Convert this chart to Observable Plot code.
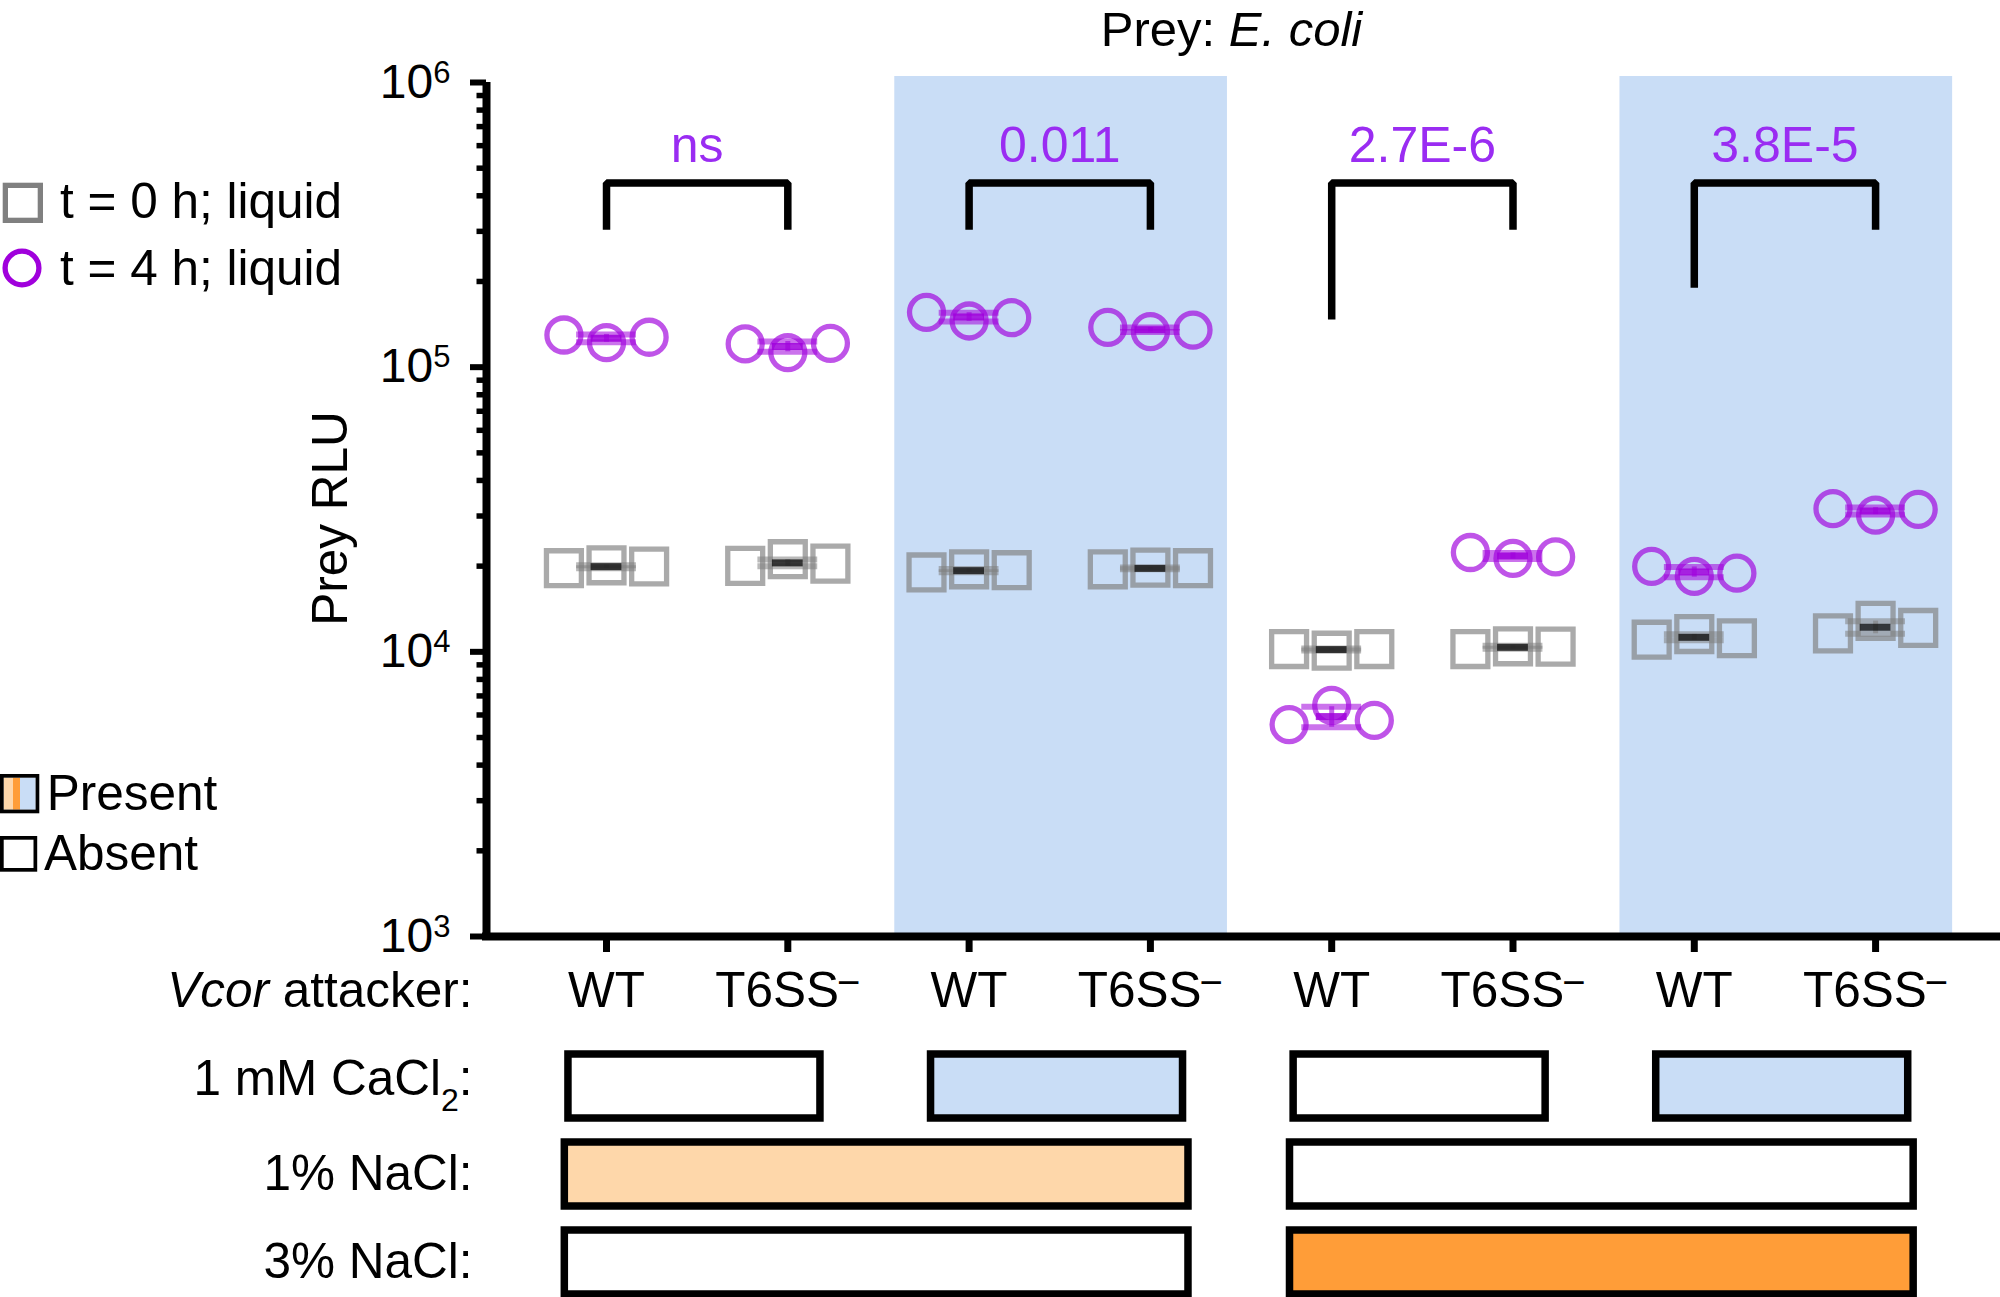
<!DOCTYPE html>
<html>
<head>
<meta charset="utf-8">
<script src="https://cdn.jsdelivr.net/npm/d3@7"></script>
<script src="https://cdn.jsdelivr.net/npm/@observablehq/plot@0.6"></script>
<style>
  body { margin: 0; background: #fff; font-family: "Liberation Sans", Arial, sans-serif; }
  #wrap { position: relative; width: 2000px; height: 1297px; overflow: hidden; background: #fff; }
  #wrap > svg { display: block; }
  #legend { position: absolute; left: 0; top: 0; pointer-events: none; }
</style>
</head>
<body>
<div id="wrap"></div>
<script>
// ---------------- DATA ----------------
const attackers = ["WT", "T6SS⁻", "WT", "T6SS⁻", "WT", "T6SS⁻", "WT", "T6SS⁻"];
// Prey RLU, three replicates per attacker column
const t0Liquid = [
  [19670, 20140, 19940],
  [20040, 21150, 20410],
  [19000, 19500, 19350],
  [19500, 19760, 19670],
  [10230, 10090, 10230],
  [10230, 10460, 10430],
  [11030, 11550, 11160],
  [11610, 12850, 12130]
];
const t4Liquid = [
  [129700, 121900, 127400],
  [120700, 112500, 121300],
  [155800, 145300, 149200],
  [138000, 133200, 135000],
  [5550, 6480, 5740],
  [22330, 21280, 21540],
  [19950, 18400, 18890],
  [31830, 30220, 31650]
];
// conditions per column (1 = present)
const cacl2 = [0, 0, 1, 1, 0, 0, 1, 1];
const nacl1 = [1, 1, 1, 1, 0, 0, 0, 0];
const nacl3 = [0, 0, 0, 0, 1, 1, 1, 1];
// statistics annotations
const comparisons = [[0, 1], [2, 3], [4, 5], [6, 7]];
const pLabels = ["ns", "0.011", "2.7E-6", "3.8E-5"];
const bracketTop = 4.44e5;
const bracketLeftEnd = [3.04e5, 3.04e5, 1.47e5, 1.9e5];
const bracketRightEnd = [3.04e5, 3.04e5, 3.04e5, 3.04e5];
const yMajorTicks = [1e3, 1e4, 1e5, 1e6];
const rowLabels = ["1 mM CaCl₂:", "1% NaCl:", "3% NaCl:"];
const seriesLabels = ["t = 0 h; liquid", "t = 4 h; liquid"];
const presenceLabels = ["Present", "Absent"];

// ---------------- STYLE ----------------
const FONT = "'Liberation Sans', Arial, Helvetica, sans-serif";
const FS = 49.5;
const W = 2000, H1 = 1030, H2 = 267, ML = 486;
const X_DOMAIN = [-0.662, 7.689];
const purple = "#a000dc", grey = "#808080", pColor = "#9a2cf2";
const blue = "#c9ddf6", lightOrange = "#fed7aa", orange = "#ff9d38";
const jitter = 0.235;

// derived tables
const minorTicks = [1e3, 1e4, 1e5].flatMap(d => d3.range(2, 10).map(k => d * k));
const pts = (arr) => arr.flatMap((reps, c) => reps.map((v, i) => ({x: c + (i - 1) * jitter, y: v})));
const stats = (arr) => arr.map((reps, c) => {
  const m = d3.mean(reps), s = d3.deviation(reps);
  return {c, m, lo: m - s, hi: m + s};
});
function runs(arr, row) {
  const out = [];
  const groupSize = row === "cacl2" ? 2 : 4;
  for (let i = 0; i < arr.length; i += groupSize) out.push({row, first: i, last: i + groupSize - 1, present: arr[i]});
  return out;
}
const cacl2Runs = runs(cacl2, "cacl2");
const naclRuns = [...runs(nacl1, "nacl1"), ...runs(nacl3, "nacl3")];
const boxFill = {cacl2: blue, nacl1: lightOrange, nacl3: orange};
const s0 = stats(t0Liquid), s4 = stats(t4Liquid);
const bracketPts = comparisons.flatMap(([a, b], i) => [
  {i, x: a, y: bracketLeftEnd[i]}, {i, x: a, y: bracketTop},
  {i, x: b, y: bracketTop}, {i, x: b, y: bracketRightEnd[i]}
]);

function errorMarks(st, capColor, meanColor) {
  return [
    Plot.ruleX(st, {x: "c", y1: "lo", y2: "hi", stroke: capColor, strokeWidth: 5, strokeOpacity: 0.6}),
    Plot.ruleY(st, {y: "lo", x1: d => d.c - 0.165, x2: d => d.c + 0.165, stroke: capColor, strokeWidth: 6, strokeOpacity: 0.55}),
    Plot.ruleY(st, {y: "hi", x1: d => d.c - 0.165, x2: d => d.c + 0.165, stroke: capColor, strokeWidth: 6, strokeOpacity: 0.55}),
    Plot.ruleY(st, {y: "m", x1: d => d.c - 0.085, x2: d => d.c + 0.085, stroke: meanColor, strokeWidth: 7, strokeOpacity: 0.85})
  ];
}

const plot1 = Plot.plot({
  width: W, height: H1,
  marginLeft: ML, marginRight: 0, marginTop: 82, marginBottom: H1 - 936,
  style: {fontFamily: FONT, fontSize: FS + "px", color: "black", background: "transparent", overflow: "visible"},
  x: {domain: X_DOMAIN},
  y: {type: "log", domain: [1e3, 1e6]},
  marks: [
    Plot.rect(cacl2Runs.filter(d => d.present), {x1: d => d.first - 0.41, x2: d => d.last + 0.425, fill: blue, insetTop: -6}),
    Plot.dot(pts(t0Liquid), {x: "x", y: "y", symbol: "square", r: 19.7, stroke: grey, strokeWidth: 5.3, strokeOpacity: 0.67, fill: "none"}),
    Plot.dot(pts(t4Liquid), {x: "x", y: "y", symbol: "circle", r: 17, stroke: purple, strokeWidth: 5.3, strokeOpacity: 0.67, fill: "none"}),
    ...errorMarks(s0, grey, "#1a1a1a"),
    ...errorMarks(s4, purple, purple),
    Plot.line(bracketPts, {x: "x", y: "y", z: "i", stroke: "black", strokeWidth: 7.5, strokeLinejoin: "miter", strokeLinecap: "butt"}),
    Plot.text(comparisons, {x: d => (d[0] + d[1]) / 2, y: () => bracketTop, text: (d, i) => pLabels[i], dy: -21, lineAnchor: "bottom", fill: pColor, fontSize: 50}),
    Plot.axisY({ticks: yMajorTicks, tickSize: 16, strokeWidth: 6, tickFormat: () => "", label: null}),
    Plot.axisY({ticks: minorTicks, tickSize: 9.5, strokeWidth: 5.5, tickFormat: () => "", label: null}),
    Plot.axisX({ticks: d3.range(attackers.length), tickSize: 16, strokeWidth: 7, tickFormat: () => "", label: null}),
    Plot.ruleX([X_DOMAIN[0]], {stroke: "black", strokeWidth: 8}),
    Plot.ruleY([1e3], {stroke: "black", strokeWidth: 8, strokeLinecap: "square"}),
    Plot.text(yMajorTicks, {y: d => d, text: d => "10^" + Math.round(Math.log10(d)), frameAnchor: "left", textAnchor: "end", dx: -36, dy: 15, lineAnchor: "bottom", fontSize: 48}),
    Plot.text(attackers, {x: (d, i) => i, text: d => d, frameAnchor: "bottom", dy: 70, lineAnchor: "bottom", fontSize: FS}),
    Plot.text(["Vcor attacker:"], {frameAnchor: "bottom-left", dx: -14, dy: 70, textAnchor: "end", lineAnchor: "bottom", fontSize: FS}),
    Plot.text(["Prey RLU"], {frameAnchor: "left", rotate: -90, dx: -140, dy: 9, textAnchor: "middle", lineAnchor: "bottom", fontSize: FS}),
    Plot.text(["Prey: E. coli"], {frameAnchor: "top", dx: -12, dy: -37, lineAnchor: "bottom", fontSize: 49})
  ]
});

const plot2 = Plot.plot({
  width: W, height: H2,
  marginLeft: ML, marginRight: 0, marginTop: 0, marginBottom: 0,
  style: {fontFamily: FONT, fontSize: FS + "px", color: "black", background: "transparent", overflow: "visible"},
  x: {domain: X_DOMAIN, axis: null},
  y: {type: "band", domain: ["cacl2", "nacl1", "nacl3"], range: [11.5, 275.5], paddingInner: 0.278, paddingOuter: 0.139, axis: null},
  color: {type: "identity"},
  marks: [
    Plot.rect(cacl2Runs, {x1: d => d.first - 0.21, x2: d => d.last + 0.18, y: "row", fill: d => d.present ? boxFill[d.row] : "white", stroke: "black", strokeWidth: 7.5}),
    Plot.rect(naclRuns, {x1: d => d.first - 0.23, x2: d => d.last + 0.21, y: "row", fill: d => d.present ? boxFill[d.row] : "white", stroke: "black", strokeWidth: 7.5}),
    Plot.text([rowLabels[0]], {y: () => "cacl2", text: d => d, frameAnchor: "left", dx: -14, dy: -7, textAnchor: "end", lineAnchor: "middle", fontSize: FS}),
    Plot.text(rowLabels.slice(1), {y: (d, i) => ["nacl1", "nacl3"][i], text: d => d, frameAnchor: "left", dx: -14, textAnchor: "end", lineAnchor: "middle", fontSize: FS})
  ]
});

// rich text (italics, super/subscripts) kept as real text
function rich(svg) {
  d3.select(svg).selectAll("text").each(function () {
    const el = d3.select(this);
    const t = this.textContent;
    let m;
    if ((m = t.match(/^10\^(\d+)$/))) {
      el.text("10");
      el.append("tspan").attr("dy", -15).attr("font-size", 31).text(m[1]);
    } else if (t.endsWith("⁻")) {
      el.text(t.slice(0, -1));
      el.append("tspan").attr("dy", -11).attr("dx", -2).attr("font-size", 40).text("−");
    } else if (t === "Vcor attacker:") {
      el.text("");
      el.append("tspan").attr("font-style", "italic").text("Vcor");
      el.append("tspan").text(" attacker:");
    } else if (t === "Prey: E. coli") {
      el.text("");
      el.append("tspan").text("Prey: ");
      el.append("tspan").attr("font-style", "italic").text("E. coli");
    } else if (t.includes("₂")) {
      const [a, b] = t.split("₂");
      el.text(a);
      el.append("tspan").attr("dy", 16).attr("font-size", 32).text("2");
      el.append("tspan").attr("dy", -16).text(b);
    }
  });
}
rich(plot1); rich(plot2);

const wrap = document.getElementById("wrap");
wrap.appendChild(plot1);
wrap.appendChild(plot2);

// legends
const lg = d3.select(wrap).append("svg").attr("id", "legend").attr("width", 380).attr("height", 900)
  .style("font-family", FONT).style("font-size", FS + "px");
lg.append("rect").attr("x", 5.35).attr("y", 185.35).attr("width", 35).attr("height", 35)
  .attr("fill", "none").attr("stroke", grey).attr("stroke-width", 5.3);
lg.append("text").attr("x", 60).attr("y", 218.3).text(seriesLabels[0]);
lg.append("circle").attr("cx", 22).attr("cy", 268).attr("r", 16.9)
  .attr("fill", "none").attr("stroke", purple).attr("stroke-width", 5.3);
lg.append("text").attr("x", 60).attr("y", 285).text(seriesLabels[1]);

lg.append("rect").attr("x", 3.7).attr("y", 777.7).attr("width", 9.3).attr("height", 32).attr("fill", lightOrange);
lg.append("rect").attr("x", 13).attr("y", 777.7).attr("width", 7).attr("height", 32).attr("fill", orange);
lg.append("rect").attr("x", 20).attr("y", 777.7).attr("width", 15.6).attr("height", 32).attr("fill", blue);
lg.append("rect").attr("x", 1.85).attr("y", 775.85).attr("width", 35.6).attr("height", 35.6)
  .attr("fill", "none").attr("stroke", "black").attr("stroke-width", 3.7);
lg.append("text").attr("x", 46.7).attr("y", 810).text(presenceLabels[0]);
lg.append("rect").attr("x", 1.85).attr("y", 837.85).attr("width", 33.5).attr("height", 32)
  .attr("fill", "white").attr("stroke", "black").attr("stroke-width", 3.7);
lg.append("text").attr("x", 44).attr("y", 870).text(presenceLabels[1]);
</script>
</body>
</html>
